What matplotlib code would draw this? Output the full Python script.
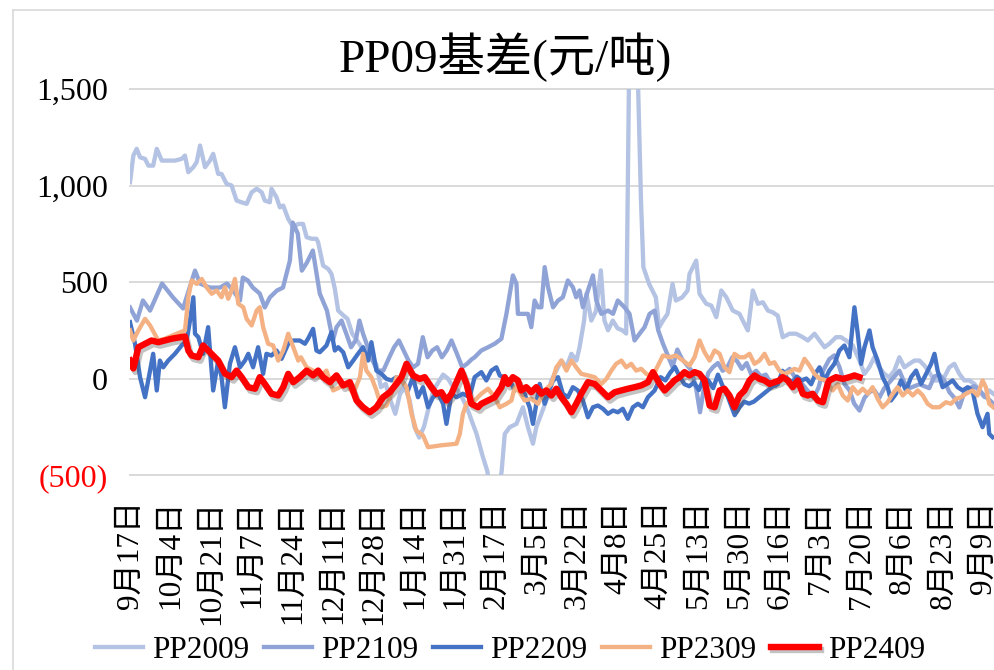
import matplotlib
matplotlib.use('Agg')
import matplotlib.pyplot as plt
import matplotlib.patheffects as pe
from matplotlib.lines import Line2D

plt.rcParams['font.family'] = ['Liberation Serif', 'Noto Sans CJK SC']

# x axis: day index counted from 9月17日, one label every 17 days
date_labels = ['9月17日', '10月4日', '10月21日', '11月7日', '11月24日', '12月11日',
               '12月28日', '1月14日', '1月31日', '2月17日', '3月5日', '3月22日',
               '4月8日', '4月25日', '5月13日', '5月30日', '6月16日', '7月3日',
               '7月20日', '8月6日', '8月23日', '9月9日']
tick_step = 17

y_ticks = [-500, 0, 500, 1000, 1500]
y_labels = ['(500)', '0', '500', '1,000', '1,500']

# (day, basis)
pp2009 = [(0, 1017), (1.4, 1155), (2.8, 1190), (4.2, 1146), (6.3, 1138), (7.7, 1103), (9.7, 1103),
          (11.2, 1190), (13.3, 1129), (16, 1129), (18.8, 1129), (21.6, 1138), (23, 1155), (24.4, 1069),
          (26.5, 1095), (27.9, 1121), (29.3, 1207), (31.4, 1095), (33.4, 1129), (34.8, 1164), (36.9, 1060),
          (38.3, 1060), (40.4, 1009), (42.5, 1000), (44.6, 922), (46.7, 913), (48.8, 905), (50.9, 965),
          (53, 983), (55.1, 965), (56.4, 922), (58.5, 913), (59.2, 983), (61.3, 939), (62.7, 887),
          (64.1, 896), (66.2, 827), (68.3, 784), (70.4, 801), (72.4, 801), (73.9, 732), (76, 724),
          (78, 724), (78.7, 706), (80.8, 585), (82.9, 568), (84.3, 542), (85.7, 465), (87.1, 352),
          (89, 330), (91, 309), (93, 232), (95, 197), (97, 160), (99, 128), (101, 100), (103, 76),
          (105, -45), (107, -28), (109, -114), (111, -183), (113, -79), (115, -45), (117, -114),
          (119, -250), (121, -306), (123, -250), (125, -150), (127, -60), (129, -20), (131, 20), (133, 0),
          (135, -40), (137, -60), (139, -100), (141, -150), (143, -220), (145, -287), (147.5, -400),
          (149.5, -480), (150.5, -560), (154.5, -560), (155.5, -480), (156.8, -287), (158.9, -252),
          (161.7, -235), (164.4, -149), (166.5, -252), (168.6, -338), (170, -252), (172.1, -183),
          (174.2, -114), (176.3, -10), (178.4, 41), (180.5, 93), (182.6, 58), (184.7, 128), (186.8, 93),
          (188.1, 162), (190, 300), (191, 440), (193, 300), (195, 350), (197, 560), (198.5, 300), (200, 250),
          (202, 300), (204, 260), (206, 250), (207.6, 233), (209.0, 1800), (212.0, 1800), (213.8, 922),
          (214.8, 577), (217.2, 490), (218.6, 456), (220, 421), (221.4, 266), (223, 300), (224.9, 335),
          (227, 490), (228.4, 404), (231, 420), (233.3, 456), (234.1, 542), (236.9, 611), (238.3, 439),
          (241.1, 387), (243.2, 378), (245.3, 318), (247.4, 456), (249.5, 421), (252.2, 352), (255, 335),
          (256.4, 300), (258.5, 249), (260.6, 456), (262.7, 387), (264.8, 395), (266.9, 352), (268.9, 343),
          (271, 326), (273.1, 214), (275.9, 232), (278.7, 232), (281.5, 214), (283.6, 197), (286.4, 232),
          (288.5, 197), (290.6, 162), (292.6, 180), (295.4, 214), (297.5, 214), (299.6, 197), (302.4, 171),
          (305.2, 93), (307.3, 24), (309.4, 60), (311.4, 110), (313.5, 58), (315.6, 24), (317.7, 7),
          (319.8, 41), (321.9, 110), (324, 58), (326.1, 76), (328.2, 93), (330.3, 93), (332.4, 67),
          (334.4, 33), (336.5, -10), (338.6, -10), (340.7, 7), (342.8, 58), (344.9, 76), (347, 24),
          (349.1, -10), (351.2, -10), (353.3, -28), (355.4, -62), (357.4, -97), (359.5, -62), (361.2, -79)]

pp2109 = [(0, 368), (2.9, 300), (5.4, 404), (8.4, 352), (13.4, 492), (18, 420), (22.2, 363), (27.2, 559),
          (29.3, 492), (33.4, 471), (37.6, 471), (40.6, 492), (43.1, 456), (46, 404), (47.2, 523),
          (49.3, 508), (51.4, 471), (54.3, 440), (56.4, 368), (58.5, 420), (61.5, 456), (64, 471),
          (66.9, 611), (68.1, 808), (70.2, 751), (71.9, 559), (74, 600), (76.5, 663), (79.4, 440),
          (82.4, 352), (84.9, 197), (86.4, 266), (88.5, 300), (90.5, 232), (92.5, 162), (94.5, 200),
          (96, 300), (97.5, 232), (99.5, 162), (101.5, 93), (103.5, 41), (106, 41), (108.5, 110),
          (110.5, 162), (112.5, 197), (114.5, 145), (116.5, 93), (118.5, 58), (120.5, 76), (122.5, 214),
          (124.5, 110), (126.5, 145), (128.5, 162), (130.5, 110), (132.5, 145), (134.5, 197), (136.8, 128),
          (139, 58), (141, 76), (143, 100), (144.2, 110), (147, 145), (149.8, 162), (152.6, 180),
          (155.4, 206), (157.5, 335), (158.9, 439), (160.2, 534), (161.7, 491), (162.3, 335), (164.4, 335),
          (166.5, 335), (167.9, 266), (169.3, 404), (170.7, 369), (172.1, 369), (173.5, 577), (174.9, 473),
          (177, 369), (179.1, 404), (181.1, 421), (183.2, 508), (185.3, 473), (186.7, 421), (188.1, 456),
          (189.5, 369), (191.6, 456), (193.7, 534), (195.1, 404), (197.2, 335), (200, 352), (202.1, 335),
          (204.1, 404), (206.9, 369), (209, 335), (211.1, 197), (213.2, 232), (215.3, 266), (217.4, 335),
          (219.5, 352), (221, 250), (223, 180), (225, 120), (227, 60), (229, 150), (231, 100), (233, 70),
          (235, 40), (237, -60), (238.5, -175), (240, -60), (242, 30), (244, 60), (246, 80), (248, 40),
          (250, 60), (252, 110), (254, 90), (256, 50), (258, 80), (260, 20), (262, 40), (264, 10),
          (266, 20), (268, -20), (270, -40), (272, -10), (274, 30), (276, 50), (278, 10), (280, -10),
          (282, -40), (284, -70), (286, -100), (288, -50), (290, 40), (292.6, 100), (294.7, 120),
          (296.8, 60), (299, -30), (301, -60), (303, -130), (305.2, -166), (307.3, -100), (309.4, -70),
          (311.4, -60), (313.5, -100), (315.6, -50), (317.7, -20), (319.8, 10), (321.9, 40), (324, -20),
          (326.1, -50), (328.2, -40), (330.3, -30), (332.4, -40), (334.4, -50), (336.5, 10), (338.6, 20),
          (340.7, -10), (342.8, -70), (344.9, -100), (347, -150), (349.1, -70), (351.2, -50), (353.3, -40),
          (355.4, -60), (357.4, -90), (359.5, -110), (361.2, -130)]

pp2209 = [(0, 292), (2.1, 180), (4.2, 7), (6.3, -97), (8.4, 41), (9.7, 128), (11.2, -62), (12.5, 93),
          (13.9, 58), (16, 93), (18.8, 128), (21.6, 171), (23.7, 197), (25.1, 300), (26.5, 421), (27.2, 232),
          (28.6, 214), (30.6, 128), (32.7, 266), (34.8, -62), (36.9, 93), (38.3, 7), (39.7, -149), (41.8, 76),
          (43.9, 162), (46, 58), (48.1, 93), (49.5, 128), (51.5, 58), (53.6, 162), (55.7, 24), (57.1, 128),
          (59.2, 119), (61.3, 145), (63.4, 102), (66.2, 180), (68.3, 197), (71, 197), (73.2, 180),
          (74.5, 206), (76.6, 257), (78, 145), (79.4, 136), (82.2, 171), (84.3, 240), (85.7, 145),
          (87.1, 162), (89.2, 136), (91.3, 58), (93.4, 93), (95.4, 128), (97.5, 162), (99.6, 93), (101, 188),
          (103.1, 41), (105.2, 24), (107.3, -2), (109.4, -10), (111.5, 7), (114.2, -19), (116.3, -62),
          (118.4, 7), (120.5, -97), (122.6, -45), (124.7, -149), (126.8, -97), (128.9, -79), (131, -131),
          (132.4, -235), (134.5, -79), (136.6, -97), (139.3, -79), (142.1, -97), (144.2, 7), (147, 33),
          (149.1, -10), (151.2, 41), (153.3, 58), (154.7, 16), (158.9, -10), (161, -62), (163, -45),
          (165.1, -79), (167.2, -149), (168.6, -235), (170, -131), (171.4, -28), (173.5, -131), (174.9, -79),
          (177, -10), (179.1, 7), (181.1, -79), (183.2, -97), (185.3, -45), (187.4, -62), (189.5, -114),
          (191.6, -201), (193.7, -149), (195.8, -140), (197.9, -157), (200, -183), (202.1, -166),
          (204.1, -175), (206.2, -157), (208.3, -209), (210.4, -149), (212.5, -131), (214.6, -149),
          (216.7, -97), (219.5, -62), (222, 7), (224, -10), (226, 30), (228, 60), (230, 10), (232, -30),
          (234, -40), (236, -20), (238, -60), (240, 0), (242, -10), (244, -50), (246, 20), (248, -40),
          (250, -90), (253, -190), (255, -150), (257, -120), (259, -130), (261, -120), (263, -100),
          (265, -80), (267, -60), (269, -40), (271, -30), (273, 40), (275, 0), (277, -20), (279, 10),
          (281, -10), (283, 0), (285, -30), (287, 30), (288.5, 58), (290.6, -10), (292.6, 41), (294.7, 76),
          (296.8, 145), (298.9, 171), (301, 110), (303.1, 369), (304.5, 232), (305.9, 76), (307.3, 162),
          (309.4, 249), (310.7, 162), (312.8, 93), (314.9, 7), (317, -45), (318.4, -114), (320.5, -79),
          (322.6, -10), (324.7, -62), (326.8, 7), (328.9, 41), (331, -28), (333.1, 24), (335.2, 76),
          (336.6, 128), (337.9, 41), (340, -45), (342.1, -28), (344.2, -10), (346.3, -45), (348.4, -62),
          (350.5, -45), (352.5, -62), (354.6, -183), (356.7, -252), (358.8, -183), (359.5, -287),
          (360.9, -304)]

pp2309 = [(0, 250), (1.4, 197), (3.5, 249), (6.3, 309), (8.4, 275), (11.8, 197), (14.6, 206), (18.8, 228),
          (23, 249), (24.4, 421), (25.8, 508), (27.9, 490), (30, 516), (32, 473), (34.2, 439), (36.2, 456),
          (38.3, 421), (39.7, 473), (41.1, 413), (42.5, 456), (43.9, 516), (45.3, 387), (47.4, 369),
          (48.8, 309), (50.9, 275), (53, 352), (54.3, 369), (55.7, 266), (57.8, 180), (59.9, 171), (62, 93),
          (64.1, 145), (66.2, 232), (68.3, 162), (70.4, 93), (71.5, 110), (73.9, 58), (76.6, 41), (79.4, 7),
          (82.2, 41), (85, -62), (87.8, -45), (90.6, -28), (93.4, -79), (96.2, 7), (97.5, 128), (98.9, 41),
          (101, 7), (103.1, -62), (105.2, -149), (107.3, -140), (109.4, -79), (111.5, 7), (113.6, -10),
          (115.7, -45), (117.8, -183), (119.8, -270), (122.6, -295), (124.7, -356), (129.6, -347),
          (136.6, -338), (138, -287), (139.3, -183), (140.8, -131), (142.5, -114), (144.2, -114), (147, -79),
          (149.8, -53), (152.6, -97), (154.7, -149), (157.5, -131), (159.6, -114), (161, -45), (163, -71),
          (165.1, -114), (167.9, -105), (170.7, -131), (173.5, -62), (176.3, -28), (178.4, 58), (180.5, 93),
          (182.6, 41), (184.7, 93), (186.7, 58), (188.8, 24), (191.6, 16), (194.4, 7), (197.2, -28),
          (199.3, -2), (201.4, 41), (203.4, 76), (205.6, 93), (207.6, 58), (209.7, 76), (211.8, 41),
          (213.9, 50), (216, 24), (218.8, 7), (220.2, 50), (223, 119), (225.8, 110), (228.5, 119),
          (231.3, 93), (234.1, 67), (236.2, 110), (238.3, 197), (240.4, 136), (242.5, 93), (244.6, 145),
          (246.7, 128), (248.7, 58), (250.8, 33), (252.9, 128), (255, 110), (257.1, 110), (259.2, 128),
          (261.3, 76), (263.4, 93), (265.5, 128), (267.6, 76), (269.6, 84), (271.7, 41), (273.8, 24),
          (275.9, 33), (278, 50), (280.1, 41), (282.2, 102), (284.3, 67), (286.4, 24), (288.5, 0),
          (291.3, -10), (294, -62), (296.1, -28), (298.2, -88), (300.3, -114), (302.4, -45), (304.5, -79),
          (306.6, -53), (308.7, -79), (310.7, -45), (312.8, -105), (314.9, -149), (317, -123), (319.1, -79),
          (321.2, -45), (323.3, -88), (325.4, -62), (327.5, -88), (329.6, -62), (331.7, -88), (333.7, -131),
          (335.8, -149), (338.6, -149), (341.4, -123), (343.5, -131), (345.6, -105), (347.7, -97),
          (349.8, -79), (352.5, -62), (354.6, -88), (356.7, -10), (358.1, -45), (359.5, -131), (361.2, -149)]

pp2409 = [(0, 93), (1.4, 52), (3.5, 162), (6.3, 180), (9, 197), (11.8, 188), (17.4, 206), (23, 218),
          (24.4, 145), (25.8, 119), (28.6, 110), (30.6, 171), (32.7, 145), (36.9, 93), (39.7, 26), (42.5, 7),
          (44.6, 41), (46.7, 7), (49.5, -45), (52.3, -53), (54.3, 7), (56.4, -28), (59.2, -79), (62, -88),
          (64.1, -45), (66.2, 24), (68.3, -19), (71, 7), (73.9, 41), (76.6, 16), (78.7, 41), (80.8, 7),
          (83.6, -19), (86.4, 16), (89.2, -36), (92, -19), (94.8, -114), (97.5, -149), (100.3, -175),
          (103.1, -149), (105.9, -97), (108.7, -71), (111.5, -28), (113.6, 7), (115.7, 76), (118.4, 16),
          (121.2, -2), (123.3, 7), (126.1, -45), (128.2, -79), (130.3, -71), (132.4, -114), (134.5, -79),
          (136.6, -19), (138.7, 41), (140.8, -28), (142.8, -131), (145.6, -149), (147, -131), (149.8, -114),
          (152.6, -97), (155.4, -45), (156.8, 7), (158.2, -28), (160.2, 7), (162.3, -10), (163.7, -62),
          (165.8, -45), (167.9, -71), (170, -45), (172.1, -79), (174.2, -62), (176.3, -88), (178.4, -53),
          (180.5, -97), (182.6, -131), (184.7, -175), (186.7, -131), (188.8, -79), (191.6, -19), (194.4, -28),
          (197.2, -62), (200, -97), (202.8, -71), (205.6, -62), (208.3, -53), (211.1, -45), (213.9, -36),
          (216.7, -19), (218.8, 33), (221.6, -28), (223.7, -62), (225.8, -36), (227.8, -10), (229.9, 7),
          (232, 33), (234.1, 16), (236.2, 33), (238.3, 24), (240.4, -10), (242.5, -140), (244.6, -149),
          (246.7, -62), (248.7, -53), (250.8, -88), (252.9, -149), (255, -88), (257.1, -62), (259.2, -10),
          (261.3, 16), (263.4, -2), (265.5, -10), (267.6, -28), (269.6, -19), (271.7, -10), (273.1, 7),
          (275.2, -10), (277.3, -45), (279.4, -10), (281.5, -79), (283.6, -88), (285.6, -79), (287.8, -114),
          (289.9, -123), (291.9, -28), (292.6, -10), (295.4, 7), (298.2, -2), (301, 7), (303.1, 16),
          (305.2, 7)]

series_names = ['PP2009', 'PP2109', 'PP2209', 'PP2309', 'PP2409']
series_data = [pp2009, pp2109, pp2209, pp2309, pp2409]
series_colors = ['#B4C3E3', '#8FA3D6', '#4472C4', '#F4B183', '#FF0000']


fig = plt.figure(figsize=(9.94, 6.70), dpi=100)
ax = fig.add_axes([130 / 994, 1 - 475 / 670, 864 / 994, 386 / 670])

for name, pts, color in zip(series_names, series_data, series_colors):
    days = [p[0] for p in pts]
    vals = [p[1] for p in pts]
    if name == 'PP2409':
        ax.plot(days, vals, color=color, lw=4.6, label=name, solid_joinstyle='round',
                path_effects=[pe.SimpleLineShadow(offset=(1.5, -2.5), shadow_color='#555555', alpha=0.35),
                              pe.Normal()])
    else:
        ax.plot(days, vals, color=color, lw=3.1, label=name, solid_joinstyle='round')

ax.set_xlim(0, 361.5)
ax.set_ylim(-500, 1500)
ax.set_xticks([i * tick_step for i in range(len(date_labels))])
ax.set_xticklabels(date_labels, rotation=90, fontsize=22.5, va='top', ha='center')
ax.set_yticks(y_ticks)
ax.set_yticklabels(y_labels, fontsize=23)
ax.get_yticklabels()[0].set_color('#FF0000')
ax.tick_params(axis='both', length=0)
ax.tick_params(axis='y', pad=16)
ax.tick_params(axis='x', pad=18)

ax.grid(axis='y', color='#D9D9D9', lw=1.4)
ax.set_axisbelow(True)
for gl in ax.get_ygridlines():
    gl.set_clip_on(False)
for s in ax.spines.values():
    s.set_visible(False)

# chart frame
fig.add_artist(Line2D([13 / 994, 13 / 994], [0, 1 - 10 / 670], transform=fig.transFigure, color='#D9D9D9', lw=1.2))
fig.add_artist(Line2D([13 / 994, 1], [1 - 10 / 670, 1 - 10 / 670], transform=fig.transFigure, color='#D9D9D9', lw=1.2))

fig.text(505 / 994, 1 - 72 / 670, 'PP09基差(元/吨)', ha='center', va='baseline', fontsize=34)

handles, labels = ax.get_legend_handles_labels()
fig.legend(handles, labels, loc='center', bbox_to_anchor=(510 / 994, 1 - 650 / 670), ncol=5,
           frameon=False, fontsize=22.5, handlelength=1.55, handletextpad=0.3, columnspacing=0.45,
           borderaxespad=0)

fig.savefig('out.png', dpi=100)
